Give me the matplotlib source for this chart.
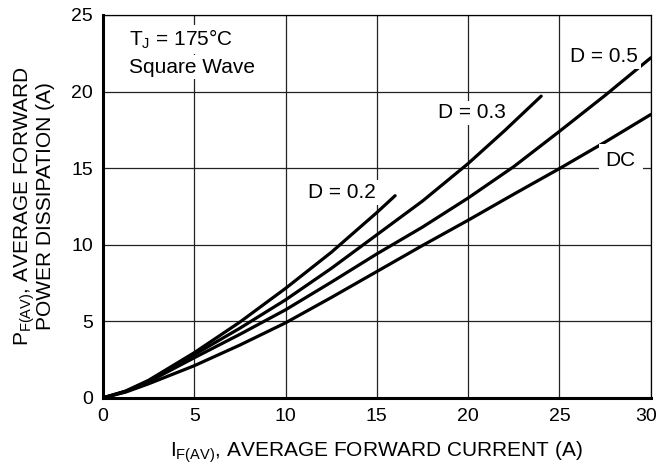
import matplotlib
matplotlib.use("Agg")
import matplotlib.pyplot as plt
import matplotlib.transforms as mtransforms

plt.rcParams['font.family'] = ['Liberation Sans', 'DejaVu Sans']
plt.rcParams['mathtext.fontset'] = 'custom'
plt.rcParams['mathtext.rm'] = 'Liberation Sans'
plt.rcParams['mathtext.it'] = 'Liberation Sans'

# Кривые: ток (A) -> мощность (Вт)
i_d02 = [0, 1.25, 2.5, 5, 7.5, 10, 12.5, 15, 16]
p_d02 = [0, 0.45, 1.15, 2.95, 4.95, 7.15, 9.5, 12.1, 13.2]

i_d03 = [0, 1.25, 2.5, 5, 7.5, 10, 12.5, 15, 17.5, 20, 22, 24]
p_d03 = [0, 0.43, 1.1, 2.82, 4.55, 6.4, 8.45, 10.65, 12.85, 15.3, 17.45, 19.7]

i_d05 = [0, 1.25, 2.5, 5, 7.5, 10, 12.5, 15, 17.5, 20, 22.5, 25, 27.5, 30]
p_d05 = [0, 0.42, 1.05, 2.62, 4.15, 5.75, 7.55, 9.4, 11.15, 13.05, 15.1, 17.4, 19.75, 22.2]

i_dc = [0, 1.25, 2.5, 5, 7.5, 10, 12.5, 15, 17.5, 20, 22.5, 25, 27.5, 30]
p_dc = [0, 0.38, 0.92, 2.1, 3.45, 4.9, 6.55, 8.25, 9.95, 11.6, 13.3, 14.97, 16.7, 18.5]

x_ticks = [0, 5, 10, 15, 20, 25, 30]
y_ticks = [0, 5, 10, 15, 20, 25]

fig = plt.figure(figsize=(6.6, 4.67), dpi=100)
ax = fig.add_axes([0.156, 0.148, 0.83, 0.82])

for xs, ys in [(i_d02, p_d02), (i_d03, p_d03), (i_d05, p_d05), (i_dc, p_dc)]:
    ax.plot(xs, ys, color='black', lw=2.3, solid_capstyle='round', zorder=3)

ax.set_xlim(0, 30)
ax.set_ylim(0, 25)
ax.set_xticks(x_ticks)
ax.set_yticks(y_ticks)
ax.tick_params(length=0, labelsize=14, pad=7, colors='black')
ax.grid(True, color='#222222', lw=0.9)
ax.set_axisbelow(True)
for side in ['top', 'right']:
    ax.spines[side].set_linewidth(0.9)
for side in ['left', 'bottom']:
    ax.spines[side].set_linewidth(2.2)

# последняя подпись "30" чуть левее, чтобы не обрезалась
lbl = ax.get_xticklabels()[-1]
lbl.set_transform(lbl.get_transform() + mtransforms.ScaledTranslation(-5 / 100, 0, fig.dpi_scale_trans))

fs = 15
box = dict(facecolor='white', edgecolor='none', pad=2)
ax.text(1.45, 23.4, r'T$_\mathregular{J}$ = 175°C', fontsize=fs, va='center', ha='left', bbox=box)
ax.text(1.45, 21.6, 'Square Wave', fontsize=fs, va='center', ha='left', bbox=box)
ax.text(13.1, 13.4, 'D = 0.2', fontsize=fs, va='center', ha='center', bbox=box)
ax.text(20.2, 18.6, 'D = 0.3', fontsize=fs, va='center', ha='center', bbox=box)
ax.text(27.45, 22.3, 'D = 0.5', fontsize=fs, va='center', ha='center', bbox=box)
ax.text(28.35, 15.5, 'DC', fontsize=fs, va='center', ha='center',
        bbox=dict(facecolor='white', edgecolor='none', pad=5))

ax.set_xlabel(r'I$_\mathregular{F(AV)}$, AVERAGE FORWARD CURRENT (A)', fontsize=fs, labelpad=11)
ax.set_ylabel('P$_\\mathregular{F(AV)}$, AVERAGE FORWARD\nPOWER DISSIPATION (A)', fontsize=fs,
              labelpad=12, linespacing=0.9)

fig.savefig('out.png', dpi=100)
